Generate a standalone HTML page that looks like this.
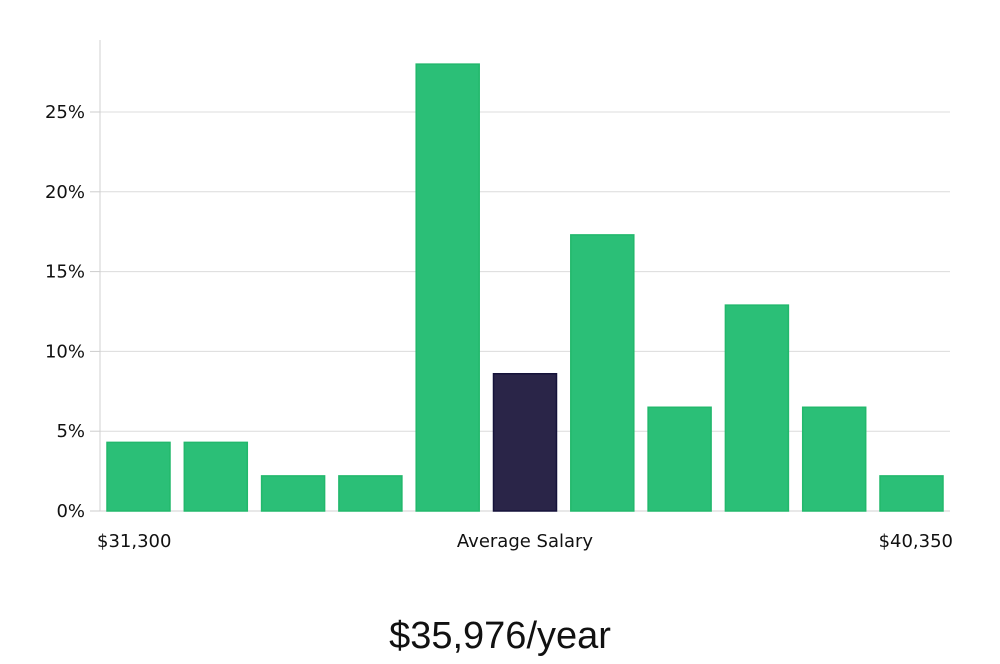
<!DOCTYPE html>
<html><head><meta charset="utf-8"><style>
body{margin:0;background:#fff;width:1000px;height:660px;overflow:hidden;font-family:"DejaVu Sans","Liberation Sans",sans-serif;}
</style></head><body>
<svg id="chart" width="1000" height="660" xmlns="http://www.w3.org/2000/svg"></svg>
<script>
const categories=["b1","b2","b3","b4","b5","b6","b7","b8","b9","b10","b11"];
const values=[4.3,4.3,2.2,2.2,28.0,8.6,17.3,6.5,12.9,6.5,2.2];
const highlightIndex=5;
const tickValues=[0,5,10,15,20,25];
const tickLabels=["0%","5%","10%","15%","20%","25%"];
const xLabels=["$31,300","Average Salary","$40,350"];
const title="$35,976/year";

const NS="http://www.w3.org/2000/svg";
const svg=document.getElementById('chart');
const x0=100,x1=950,yBase=511,pxPer=15.96;
const y=v=>yBase-v*pxPer;
const step=77.3,bw=63,firstX=107;
const bx=i=>firstX+i*step;
function mk(t,a){const e=document.createElementNS(NS,t);for(const k in a)e.setAttribute(k,a[k]);svg.appendChild(e);return e;}

tickValues.forEach((v,i)=>{
  if(v>0){const g=mk('line',{x1:x0,x2:x1,y1:y(v),y2:y(v),stroke:'#dcdcdc','stroke-width':1});
  
  }
  const tk=mk('line',{x1:90,x2:x0,y1:y(v),y2:y(v),stroke:'#ccc','stroke-width':1});
  
  
  const t=mk('text',{x:85,y:y(v)+6,'text-anchor':'end','font-size':18,fill:'#111'});
  t.textContent=tickLabels[i];
  
  
});
const ax=mk('line',{x1:x0,x2:x0,y1:40,y2:yBase,stroke:'#d0d0d0','stroke-width':1});


const bl=mk('line',{x1:x0,x2:x1,y1:yBase,y2:yBase,stroke:'#d0d0d0','stroke-width':1});



values.forEach((v,i)=>{
  const hi=i===highlightIndex;
  const r=mk('rect',{x:bx(i),y:y(v),width:bw,height:yBase-y(v),fill:hi?'#2a2548':'#2bbf77',stroke:hi?'#15123a':'#22b86c','stroke-width':1.5});
  
  
});

const xl=[[97,'start'],[525,'middle'],[953,'end']];
xLabels.forEach((s,i)=>{
  const t=mk('text',{x:xl[i][0],y:547,'text-anchor':xl[i][1],'font-size':18,fill:'#111'});
  t.textContent=s;
  
  
});
const tt=mk('text',{x:500,y:648,'text-anchor':'middle','font-size':38,fill:'#111','font-family':'"Liberation Sans Narrow","Liberation Sans",sans-serif'});
tt.textContent=title;


</script>
</body></html>
